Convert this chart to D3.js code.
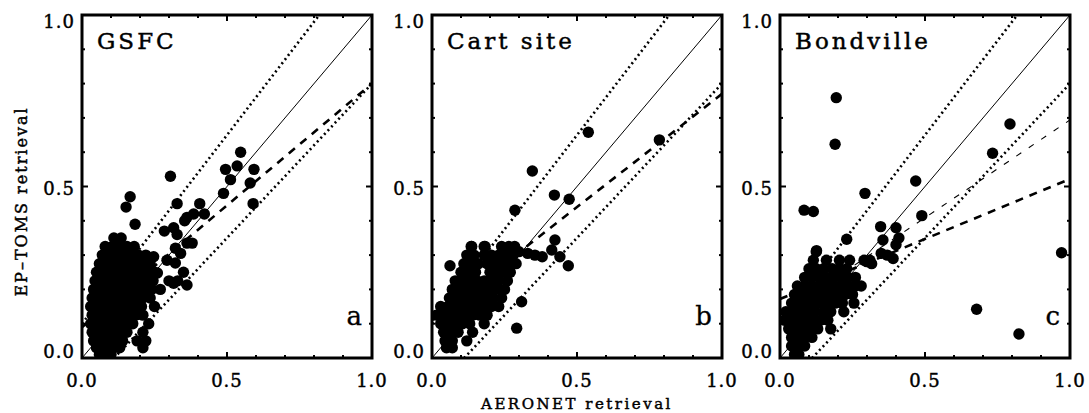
<!DOCTYPE html>
<html>
<head>
<meta charset="utf-8">
<script src="https://cdn.jsdelivr.net/npm/d3@7"></script>
<style>
  body { margin: 0; background: #fff; }
  text { font-family: "DejaVu Serif", serif; fill: #000; stroke: #000; stroke-width: 0.45px; }
</style>
</head>
<body>
<div id="chart"></div>
<script>
// Panels
const panelNames = ['GSFC', 'Cart site', 'Bondville'];
const panelLetters = ['a', 'b', 'c'];
const majorTicks = [0.0, 0.5, 1.0];
const minorTicks = [0.1, 0.2, 0.3, 0.4, 0.6, 0.7, 0.8, 0.9];

// Expected error envelope, [intercept, slope]
const envelopeLines = [[0.1, 1.1], [-0.1, 0.9]];
// Regression lines, [intercept, slope, thick?]
const fitGsfc = [[0.09, 0.71, true]];
const fitCart = [[0.11, 0.66, true]];
const fitBondville = [[0.124, 0.57, false], [0.172, 0.35, true]];

// AERONET (x) vs EP-TOMS (y)
const gsfcPoints = [
  [0.166,0.47],[0.152,0.44],[0.183,0.39],[0.305,0.53],[0.547,0.60],[0.535,0.56],[0.495,0.55],[0.593,0.55],
  [0.512,0.52],[0.58,0.51],[0.488,0.48],[0.59,0.45],[0.328,0.45],[0.406,0.45],[0.362,0.41],[0.385,0.42],
  [0.422,0.42],[0.354,0.40],[0.284,0.37],[0.316,0.38],[0.328,0.36],[0.362,0.335],[0.38,0.335],[0.322,0.32],
  [0.34,0.305],[0.293,0.285],[0.322,0.277],[0.35,0.25],[0.362,0.213],[0.316,0.218],[0.247,0.295],[0.26,0.248],
  [0.06,0.01],[0.08,0.01],[0.10,0.01],
  [0.05,0.03],[0.07,0.03],[0.09,0.03],[0.11,0.03],[0.13,0.03],[0.21,0.03],
  [0.04,0.05],[0.06,0.05],[0.08,0.05],[0.10,0.05],[0.12,0.05],[0.14,0.05],[0.19,0.05],[0.22,0.05],
  [0.035,0.075],[0.06,0.075],[0.085,0.075],[0.11,0.075],[0.13,0.075],[0.155,0.075],[0.21,0.075],
  [0.03,0.10],[0.055,0.10],[0.08,0.10],[0.10,0.10],[0.125,0.10],[0.15,0.10],[0.175,0.10],[0.23,0.10],
  [0.035,0.125],[0.06,0.125],[0.085,0.125],[0.11,0.125],[0.135,0.125],[0.16,0.125],[0.185,0.125],[0.21,0.125],
  [0.03,0.15],[0.055,0.15],[0.08,0.15],[0.105,0.15],[0.13,0.15],[0.155,0.15],[0.18,0.15],[0.205,0.15],[0.25,0.15],
  [0.035,0.175],[0.06,0.175],[0.085,0.175],[0.11,0.175],[0.135,0.175],[0.16,0.175],[0.185,0.175],[0.21,0.175],[0.235,0.175],
  [0.04,0.20],[0.065,0.20],[0.09,0.20],[0.115,0.20],[0.14,0.20],[0.165,0.20],[0.19,0.20],[0.215,0.20],[0.24,0.20],[0.27,0.20],
  [0.045,0.225],[0.07,0.225],[0.095,0.225],[0.12,0.225],[0.145,0.225],[0.17,0.225],[0.195,0.225],[0.22,0.225],[0.245,0.225],[0.30,0.225],[0.33,0.225],
  [0.05,0.25],[0.075,0.25],[0.10,0.25],[0.125,0.25],[0.15,0.25],[0.175,0.25],[0.20,0.25],[0.225,0.25],[0.25,0.25],
  [0.06,0.275],[0.085,0.275],[0.11,0.275],[0.135,0.275],[0.16,0.275],[0.185,0.275],[0.21,0.275],[0.235,0.275],
  [0.07,0.30],[0.095,0.30],[0.12,0.30],[0.145,0.30],[0.17,0.30],[0.195,0.30],[0.22,0.30],
  [0.08,0.325],[0.105,0.325],[0.13,0.325],[0.155,0.325],[0.18,0.325],
  [0.11,0.35],[0.135,0.35]
];

const cartPoints = [
  [0.539,0.658],[0.784,0.636],[0.346,0.545],[0.422,0.475],[0.473,0.463],[0.286,0.431],[0.424,0.344],[0.413,0.315],
  [0.441,0.295],[0.47,0.269],[0.309,0.164],[0.292,0.087],[0.30,0.31],[0.33,0.305],[0.355,0.30],[0.38,0.295],
  [0.062,0.269],[0.137,0.325],[0.183,0.325],
  [0.05,0.03],[0.07,0.03],
  [0.045,0.05],[0.07,0.05],[0.12,0.05],
  [0.04,0.075],[0.065,0.075],[0.09,0.075],[0.14,0.075],
  [0.03,0.10],[0.055,0.10],[0.08,0.10],[0.105,0.10],[0.13,0.10],[0.18,0.10],
  [0.015,0.125],[0.04,0.125],[0.065,0.125],[0.09,0.125],[0.115,0.125],[0.14,0.125],[0.165,0.125],[0.19,0.125],
  [0.03,0.15],[0.055,0.15],[0.08,0.15],[0.105,0.15],[0.13,0.15],[0.155,0.15],[0.18,0.15],[0.205,0.15],[0.23,0.15],
  [0.06,0.175],[0.085,0.175],[0.11,0.175],[0.135,0.175],[0.16,0.175],[0.185,0.175],[0.21,0.175],[0.24,0.175],
  [0.07,0.20],[0.095,0.20],[0.12,0.20],[0.145,0.20],[0.17,0.20],[0.195,0.20],[0.22,0.20],[0.25,0.20],
  [0.08,0.225],[0.105,0.225],[0.13,0.225],[0.155,0.225],[0.18,0.225],[0.205,0.225],[0.23,0.225],[0.26,0.225],
  [0.10,0.25],[0.125,0.25],[0.15,0.25],[0.20,0.25],[0.225,0.25],[0.25,0.25],[0.27,0.25],
  [0.11,0.275],[0.135,0.275],[0.16,0.275],[0.19,0.275],[0.215,0.275],[0.24,0.275],[0.265,0.275],[0.29,0.275],
  [0.12,0.30],[0.145,0.30],[0.18,0.30],[0.205,0.30],[0.23,0.30],[0.255,0.30],[0.28,0.30],
  [0.135,0.325],[0.18,0.325],[0.24,0.325],[0.265,0.325],[0.285,0.325]
];

const bondvillePoints = [
  [0.194,0.759],[0.19,0.623],[0.083,0.431],[0.115,0.427],[0.293,0.48],[0.468,0.516],[0.489,0.415],[0.793,0.682],
  [0.733,0.597],[0.971,0.307],[0.678,0.142],[0.824,0.07],[0.347,0.383],[0.355,0.344],[0.40,0.38],[0.41,0.35],
  [0.40,0.33],[0.23,0.346],[0.349,0.305],[0.37,0.30],[0.39,0.29],[0.299,0.281],[0.316,0.275],[0.126,0.313],
  [0.05,0.01],[0.065,0.01],
  [0.04,0.035],[0.06,0.035],[0.085,0.035],
  [0.04,0.06],[0.06,0.06],[0.085,0.06],[0.11,0.06],
  [0.03,0.085],[0.055,0.085],[0.08,0.085],[0.105,0.085],[0.13,0.085],[0.175,0.085],
  [0.015,0.11],[0.04,0.11],[0.065,0.11],[0.09,0.11],[0.115,0.11],[0.14,0.11],[0.165,0.11],
  [0.02,0.135],[0.045,0.135],[0.07,0.135],[0.095,0.135],[0.12,0.135],[0.15,0.135],[0.175,0.135],[0.22,0.135],
  [0.04,0.16],[0.065,0.16],[0.09,0.16],[0.115,0.16],[0.14,0.16],[0.165,0.16],[0.19,0.16],[0.215,0.16],[0.255,0.16],
  [0.05,0.185],[0.075,0.185],[0.10,0.185],[0.125,0.185],[0.15,0.185],[0.175,0.185],[0.20,0.185],[0.225,0.185],[0.25,0.185],
  [0.06,0.21],[0.085,0.21],[0.11,0.21],[0.135,0.21],[0.16,0.21],[0.185,0.21],[0.21,0.21],[0.235,0.21],[0.26,0.21],[0.28,0.21],
  [0.085,0.235],[0.11,0.235],[0.135,0.235],[0.16,0.235],[0.185,0.235],[0.21,0.235],[0.235,0.235],[0.26,0.235],
  [0.10,0.26],[0.125,0.26],[0.15,0.26],[0.18,0.26],[0.205,0.26],[0.23,0.26],
  [0.115,0.285],[0.16,0.285],[0.205,0.285],[0.24,0.285],[0.29,0.285],[0.31,0.285],
  [0.125,0.31]
];

const panelPoints = [gsfcPoints, cartPoints, bondvillePoints];
const panelFits = [fitGsfc, fitCart, fitBondville];

// Layout
const width = 1089, height = 413;
const panelLeft = [82, 432, 780];
const panelW = 290, panelTop = 15, panelH = 343;

const svg = d3.select('#chart').append('svg')
  .attr('width', width)
  .attr('height', height);

panelNames.forEach((name, i) => {
  const x = d3.scaleLinear().domain([0, 1]).range([panelLeft[i], panelLeft[i] + panelW]);
  const y = d3.scaleLinear().domain([0, 1]).range([panelTop + panelH, panelTop]);

  const g = svg.append('g');
  const clipId = 'clip' + i;
  g.append('clipPath').attr('id', clipId)
    .append('rect')
    .attr('x', panelLeft[i]).attr('y', panelTop)
    .attr('width', panelW).attr('height', panelH);

  const plot = g.append('g').attr('clip-path', 'url(#' + clipId + ')');
  const line = (b, m) => d3.line()([[x(0), y(b)], [x(1), y(b + m)]]);

  // 1:1 line
  plot.append('path').attr('d', line(0, 1))
    .attr('fill', 'none').attr('stroke', '#000').attr('stroke-width', 1);

  // envelope (dotted)
  envelopeLines.forEach(([b, m]) => {
    plot.append('path').attr('d', line(b, m))
      .attr('fill', 'none').attr('stroke', '#000')
      .attr('stroke-width', 2.6)
      .attr('stroke-dasharray', '2,3.2');
  });

  // regression (dashed)
  panelFits[i].forEach(([b, m, thick]) => {
    plot.append('path').attr('d', line(b, m))
      .attr('fill', 'none').attr('stroke', '#000')
      .attr('stroke-width', thick ? 2.6 : 1.1)
      .attr('stroke-dasharray', thick ? '8,7' : '6,9');
  });

  // points
  plot.selectAll('circle')
    .data(panelPoints[i])
    .enter()
    .append('circle')
    .attr('cx', (d) => x(d[0]))
    .attr('cy', (d) => y(d[1]))
    .attr('r', 5.7)
    .attr('fill', '#000');

  // ticks, inward on all four sides
  const tickLen = (v) => (majorTicks.includes(v) ? 6 : 3);
  const allTicks = majorTicks.concat(minorTicks);
  const tg = g.append('g').attr('stroke', '#000').attr('stroke-width', 2);
  allTicks.forEach((v) => {
    const L = tickLen(v);
    tg.append('line').attr('x1', x(v)).attr('x2', x(v)).attr('y1', y(0)).attr('y2', y(0) - L);
    tg.append('line').attr('x1', x(v)).attr('x2', x(v)).attr('y1', y(1)).attr('y2', y(1) + L);
    tg.append('line').attr('y1', y(v)).attr('y2', y(v)).attr('x1', x(0)).attr('x2', x(0) + L);
    tg.append('line').attr('y1', y(v)).attr('y2', y(v)).attr('x1', x(1)).attr('x2', x(1) - L);
  });

  // frame
  g.append('rect')
    .attr('x', panelLeft[i]).attr('y', panelTop)
    .attr('width', panelW).attr('height', panelH)
    .attr('fill', 'none').attr('stroke', '#000').attr('stroke-width', 3);

  // tick labels
  majorTicks.forEach((v) => {
    g.append('text')
      .attr('x', x(v)).attr('y', 387)
      .attr('text-anchor', 'middle')
      .style('font-size', '18px')
      .style('letter-spacing', '1px')
      .text(d3.format('.1f')(v));
    const ly = Math.min(Math.max(y(v) + 2, panelTop + 6.5), panelTop + panelH - 6);
    g.append('text')
      .attr('x', panelLeft[i] - 7).attr('y', ly)
      .attr('dy', '0.36em')
      .attr('text-anchor', 'end')
      .style('font-size', '18px')
      .style('letter-spacing', '1px')
      .text(d3.format('.1f')(v));
  });

  // site name
  g.append('text')
    .attr('x', panelLeft[i] + 15).attr('y', panelTop + 34)
    .style('font-size', '23px')
    .style('letter-spacing', '3px')
    .text(name);

  // panel letter
  g.append('text')
    .attr('x', panelLeft[i] + panelW - 10).attr('y', 325)
    .attr('text-anchor', 'end')
    .style('font-size', '26px')
    .style('stroke-width', '0.3px')
    .text(panelLetters[i]);
});

// axis titles
svg.append('text')
  .attr('x', panelLeft[1] + panelW / 2).attr('y', 409)
  .attr('text-anchor', 'middle')
  .style('font-size', '15px')
  .style('letter-spacing', '2.5px')
  .text('AERONET retrieval');

svg.append('text')
  .attr('transform', 'translate(27,' + (panelTop + panelH / 2 + 15) + ') rotate(-90)')
  .attr('text-anchor', 'middle')
  .style('font-size', '16px')
  .style('letter-spacing', '2px')
  .text('EP–TOMS retrieval');
</script>
</body>
</html>
